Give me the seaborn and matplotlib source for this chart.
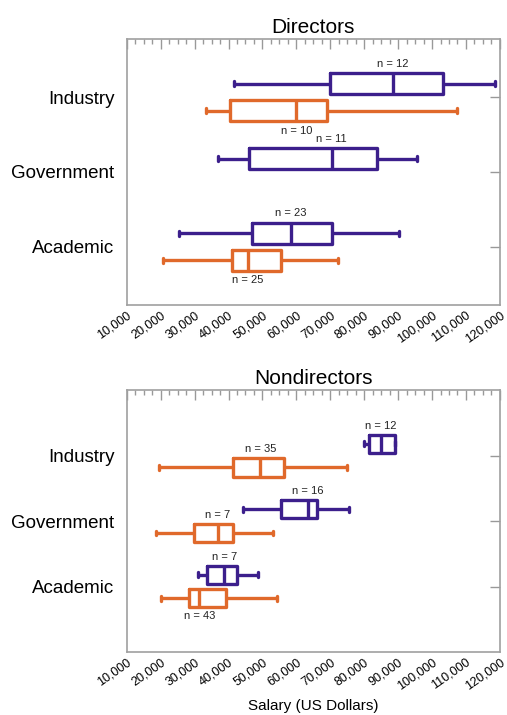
import numpy as np
import pandas as pd
import matplotlib
matplotlib.use("Agg")
import matplotlib.pyplot as plt
import matplotlib.ticker as mticker
import seaborn as sns

# five-number summaries: whisker low, Q1, median, Q3, whisker high
sectors = ["Industry", "Government", "Academic"]
series = ["purple", "orange"]
colors = ["#3C1F8C", "#E0692B"]

dir_industry_purple = [41700, 70000, 88400, 103300, 118500]
dir_industry_orange = [33400, 40500, 60000, 69000, 107500]
dir_government_purple = [36800, 46000, 70400, 83800, 95500]
dir_academic_purple = [25400, 46800, 58400, 70400, 90400]
dir_academic_orange = [20700, 41000, 45600, 55500, 72400]

non_industry_purple = [79900, 81300, 85000, 89000, 89000]
non_industry_orange = [19500, 41400, 49400, 56300, 75000]
non_government_purple = [44300, 55500, 63400, 66000, 75500]
non_government_orange = [18500, 29700, 36900, 41200, 53100]
non_academic_purple = [31000, 33600, 38800, 42400, 48800]
non_academic_orange = [20200, 28300, 31400, 39200, 54300]

# sample sizes and where the label sits (above / below the box)
dir_n = {("Industry", "purple"): (12, "above"), ("Industry", "orange"): (10, "below"),
         ("Government", "purple"): (11, "above"),
         ("Academic", "purple"): (23, "above"), ("Academic", "orange"): (25, "below")}
non_n = {("Industry", "purple"): (12, "above"), ("Industry", "orange"): (35, "above"),
         ("Government", "purple"): (16, "above"), ("Government", "orange"): (7, "above"),
         ("Academic", "purple"): (7, "above"), ("Academic", "orange"): (43, "below")}


def make_df(boxes):
    rows = []
    for (sector, ser), vals in boxes.items():
        for v in vals:
            rows.append({"sector": sector, "series": ser, "salary": v})
    return pd.DataFrame(rows)


directors = make_df({
    ("Industry", "purple"): dir_industry_purple,
    ("Industry", "orange"): dir_industry_orange,
    ("Government", "purple"): dir_government_purple,
    ("Academic", "purple"): dir_academic_purple,
    ("Academic", "orange"): dir_academic_orange,
})
nondirectors = make_df({
    ("Industry", "purple"): non_industry_purple,
    ("Industry", "orange"): non_industry_orange,
    ("Government", "purple"): non_government_purple,
    ("Government", "orange"): non_government_orange,
    ("Academic", "purple"): non_academic_purple,
    ("Academic", "orange"): non_academic_orange,
})

sns.set_style("white")
plt.rcParams["font.family"] = ["Liberation Sans", "DejaVu Sans"]
plt.rcParams["text.color"] = "black"
plt.rcParams["xtick.labelcolor"] = "black"
plt.rcParams["ytick.labelcolor"] = "black"

fig = plt.figure(figsize=(5.07, 7.15), dpi=100)
ax1 = fig.add_axes([0.25, 0.5734, 0.736, 0.3721])
ax2 = fig.add_axes([0.25, 0.0881, 0.736, 0.3664])

width, gap = 0.72, 0.22
offset = width / 4


def draw(ax, df, counts, title, ylim):
    sns.boxplot(data=df, x="salary", y="sector", hue="series", order=sectors,
                hue_order=series, palette=colors, orient="h", whis=(0, 100),
                width=width, gap=gap, fill=False, linewidth=2.4, legend=False,
                capwidths=0.07, ax=ax)
    for (sector, ser), (n, where) in counts.items():
        vals = df[(df.sector == sector) & (df.series == ser)].salary
        med = np.median(vals)
        y = sectors.index(sector) + (-offset if ser == "purple" else offset)
        if where == "above":
            ax.text(med, y - 0.2, f"n = {n}", ha="center", va="bottom", fontsize=8, color="#222222")
        else:
            ax.text(med, y + 0.2, f"n = {n}", ha="center", va="top", fontsize=8, color="#222222")
    ax.set_xlim(10000, 120000)
    ax.set_ylim(*ylim)
    ax.set_title(title, fontsize=15, pad=4, color="black")
    ax.set_xlabel("")
    ax.set_ylabel("")
    ax.xaxis.set_major_locator(mticker.MultipleLocator(10000))
    ax.xaxis.set_minor_locator(mticker.MultipleLocator(2500))
    ax.xaxis.set_major_formatter(mticker.StrMethodFormatter("{x:,.0f}"))
    ax.tick_params(axis="x", which="major", direction="in", length=7, width=1,
                   color="#999999", top=True, labelsize=9, pad=3)
    ax.tick_params(axis="x", which="minor", direction="in", length=3.5, width=1,
                   color="#999999", top=True)
    ax.tick_params(axis="y", direction="in", length=7, width=1, color="#999999",
                   right=True, labelsize=13.5, pad=9)
    for lab in ax.get_xticklabels():
        lab.set_rotation(35)
        lab.set_ha("right")
        lab.set_rotation_mode("anchor")
    for sp in ax.spines.values():
        sp.set_color("#a0a0a0")
        sp.set_linewidth(1.2)


draw(ax1, directors, dir_n, "Directors", (2.78, -0.78))
draw(ax2, nondirectors, non_n, "Nondirectors", (3.0, -1.0))
ax2.set_xlabel("Salary (US Dollars)", fontsize=11, labelpad=5, color="black")

fig.savefig("out.png", dpi=100)
